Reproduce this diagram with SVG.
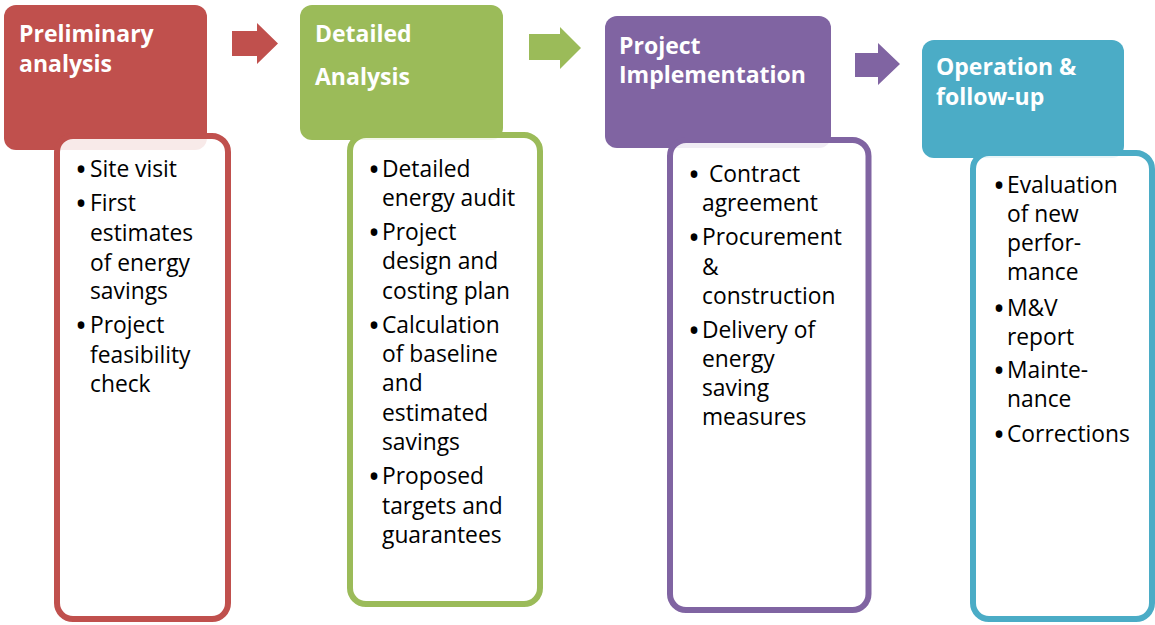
<svg xmlns="http://www.w3.org/2000/svg" width="1155" height="625" viewBox="0 0 1155 625">
<style>
.hd{font-family:"Open Sans","Noto Sans",sans-serif;font-weight:bold;font-size:23px;fill:#fff}
.tx{font-family:"Open Sans","Noto Sans",sans-serif;font-size:22.8px;fill:#000}
.bl{font-family:"Open Sans","Noto Sans",sans-serif;font-size:32px;fill:#000}
.list{fill:#fff;fill-opacity:0.88;stroke-width:6}
.red{fill:#C0504D}.green{fill:#9BBB59}.purple{fill:#8064A2}.teal{fill:#4BACC6}
</style>
<rect width="1155" height="625" fill="#fff"/>
<g id="connectors">
<polygon class="red" points="232,31 257,31 257,23 278,43.5 257,64 257,56 232,56"/>
<polygon class="green" points="529,34 560,34 560,27 581,48 560,69 560,60 529,60"/>
<polygon class="purple" points="855,53 878,53 878,43 900,64 878,85 878,77 855,77"/>
</g>
<g id="preliminary">
<rect class="red" x="4" y="5" width="203" height="145" rx="12"/>
<text class="hd" x="19" y="42">Preliminary</text>
<text class="hd" x="19" y="72">analysis</text>
<rect class="list" x="57" y="136" width="171" height="483" rx="16" stroke="#C0504D"/>
<text class="bl" x="75" y="181">•</text>
<text class="bl" x="75" y="215">•</text>
<text class="bl" x="75" y="337">•</text>
<text class="tx" x="90" y="177">Site visit</text>
<text class="tx" x="90" y="211">First</text>
<text class="tx" x="90" y="241">estimates</text>
<text class="tx" x="90" y="271">of energy</text>
<text class="tx" x="90" y="299">savings</text>
<text class="tx" x="90" y="333">Project</text>
<text class="tx" x="90" y="363">feasibility</text>
<text class="tx" x="90" y="392">check</text>
</g>
<g id="detailed">
<rect class="green" x="300" y="5" width="203" height="135" rx="12"/>
<text class="hd" x="315" y="42">Detailed</text>
<text class="hd" x="315" y="85">Analysis</text>
<rect class="list" x="350" y="135" width="190" height="469" rx="16" stroke="#9BBB59"/>
<text class="bl" x="368" y="181">•</text>
<text class="bl" x="368" y="244">•</text>
<text class="bl" x="368" y="337">•</text>
<text class="bl" x="368" y="488">•</text>
<text class="tx" x="382" y="177">Detailed</text>
<text class="tx" x="382" y="206">energy audit</text>
<text class="tx" x="382" y="240">Project</text>
<text class="tx" x="382" y="269">design and</text>
<text class="tx" x="382" y="299">costing plan</text>
<text class="tx" x="382" y="333">Calculation</text>
<text class="tx" x="382" y="362">of baseline</text>
<text class="tx" x="382" y="391">and</text>
<text class="tx" x="382" y="421">estimated</text>
<text class="tx" x="382" y="450">savings</text>
<text class="tx" x="382" y="484">Proposed</text>
<text class="tx" x="382" y="514">targets and</text>
<text class="tx" x="382" y="543">guarantees</text>
</g>
<g id="implementation">
<rect class="purple" x="605" y="16" width="226" height="132" rx="12"/>
<text class="hd" x="619" y="54">Project</text>
<text class="hd" x="619" y="83">Implementation</text>
<rect class="list" x="670" y="140" width="198.5" height="470" rx="16" stroke="#8064A2"/>
<text class="bl" x="688" y="186">•</text>
<text class="bl" x="688" y="249">•</text>
<text class="bl" x="688" y="342">•</text>
<text class="tx" x="709" y="182">Contract</text>
<text class="tx" x="702" y="211">agreement</text>
<text class="tx" x="702" y="245">Procurement</text>
<text class="tx" x="702" y="275">&amp;</text>
<text class="tx" x="702" y="304">construction</text>
<text class="tx" x="702" y="338">Delivery of</text>
<text class="tx" x="702" y="367">energy</text>
<text class="tx" x="702" y="396">saving</text>
<text class="tx" x="702" y="425">measures</text>
</g>
<g id="operation">
<rect class="teal" x="922" y="40" width="202" height="118" rx="12"/>
<text class="hd" x="936" y="75">Operation &amp;</text>
<text class="hd" x="936" y="105">follow-up</text>
<rect class="list" x="973" y="153" width="179" height="466" rx="16" stroke="#4BACC6"/>
<text class="bl" x="993" y="197">•</text>
<text class="bl" x="993" y="320">•</text>
<text class="bl" x="993" y="382">•</text>
<text class="bl" x="993" y="446">•</text>
<text class="tx" x="1007" y="193">Evaluation</text>
<text class="tx" x="1007" y="222">of new</text>
<text class="tx" x="1007" y="251">perfor-</text>
<text class="tx" x="1007" y="280">mance</text>
<text class="tx" x="1007" y="316">M&amp;V</text>
<text class="tx" x="1007" y="345">report</text>
<text class="tx" x="1007" y="378">Mainte-</text>
<text class="tx" x="1007" y="407">nance</text>
<text class="tx" x="1007" y="442">Corrections</text>
</g>
</svg>
